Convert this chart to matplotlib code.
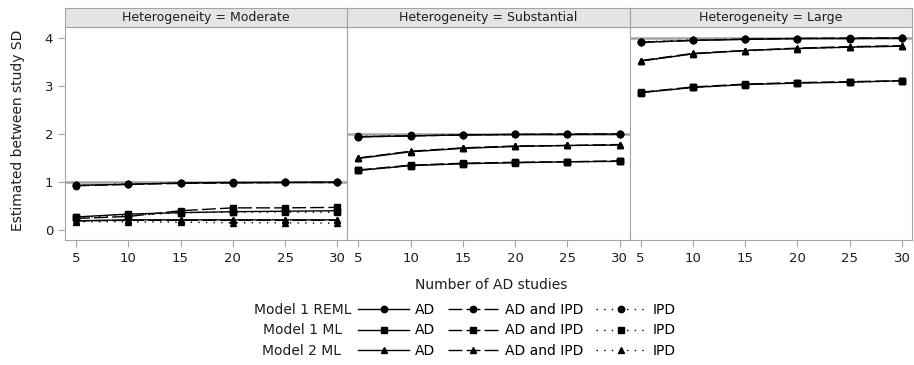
import numpy as np
import matplotlib.pyplot as plt

plt.rcParams['font.family'] = ['DejaVu Sans']

n_studies = [5, 10, 15, 20, 25, 30]
panels = ['Moderate', 'Substantial', 'Large']
true_sd = [1, 2, 4]

# estimates, one list per heterogeneity level (Moderate, Substantial, Large)
reml_ad = [[0.93, 0.95, 0.98, 0.99, 0.99, 1.00],
           [1.94, 1.96, 1.98, 1.99, 1.99, 2.00],
           [3.91, 3.95, 3.97, 3.99, 3.99, 4.00]]
reml_both = [[0.92, 0.95, 0.97, 0.98, 0.99, 0.99],
             [1.94, 1.96, 1.98, 1.99, 2.00, 2.00],
             [3.91, 3.95, 3.98, 3.99, 4.00, 4.00]]
reml_ipd = [[0.93, 0.96, 0.98, 0.98, 0.99, 0.99],
            [1.95, 1.97, 1.98, 1.99, 1.99, 1.99],
            [3.92, 3.96, 3.98, 3.99, 3.99, 4.00]]

ml1_ad = [[0.27, 0.33, 0.36, 0.38, 0.39, 0.40],
          [1.24, 1.34, 1.38, 1.40, 1.42, 1.43],
          [2.86, 2.97, 3.03, 3.06, 3.08, 3.11]]
ml1_both = [[0.24, 0.28, 0.40, 0.46, 0.46, 0.47],
            [1.25, 1.35, 1.39, 1.41, 1.42, 1.44],
            [2.87, 2.98, 3.04, 3.07, 3.09, 3.11]]
ml1_ipd = [[0.26, 0.30, 0.36, 0.37, 0.37, 0.37],
           [1.24, 1.34, 1.38, 1.41, 1.42, 1.43],
           [2.86, 2.97, 3.03, 3.07, 3.08, 3.10]]

ml2_ad = [[0.19, 0.21, 0.21, 0.21, 0.21, 0.21],
          [1.49, 1.63, 1.70, 1.74, 1.76, 1.77],
          [3.52, 3.67, 3.74, 3.78, 3.81, 3.83]]
ml2_both = [[0.19, 0.20, 0.20, 0.20, 0.20, 0.20],
            [1.50, 1.64, 1.71, 1.75, 1.76, 1.78],
            [3.53, 3.68, 3.74, 3.79, 3.82, 3.84]]
ml2_ipd = [[0.17, 0.17, 0.16, 0.15, 0.15, 0.14],
           [1.49, 1.63, 1.71, 1.74, 1.76, 1.77],
           [3.52, 3.67, 3.73, 3.78, 3.81, 3.83]]

models = ['Model 1 REML', 'Model 1 ML', 'Model 2 ML']
designs = ['AD', 'AD and IPD', 'IPD']
series = [[reml_ad, reml_both, reml_ipd],
          [ml1_ad, ml1_both, ml1_ipd],
          [ml2_ad, ml2_both, ml2_ipd]]
markers = ['o', 's', '^']
msizes = [4.6, 4.4, 5]
styles = ['-', (0, (10, 3)), (0, (1, 4.5))]

grey = '#a4a4a4'
txt = '#1e1e1e'
W, H = 914, 365
fig = plt.figure(figsize=(W / 100, H / 100), dpi=100)

left, right = 65, 912
top, bottom = 27, 240
pw = (right - left) / 3

handles = {}
for p in range(3):
    x0 = left + p * pw
    ax = fig.add_axes([x0 / W, 1 - bottom / H, pw / W, (bottom - top) / H])
    ax.axhline(true_sd[p], color=grey, lw=1.8, zorder=1)
    for m in range(3):
        for d in range(3):
            ln, = ax.plot(n_studies, series[m][d][p], color='black', lw=1,
                          linestyle=styles[d], marker=markers[m],
                          markersize=msizes[m], zorder=3)
            handles[(m, d)] = ln
    ax.set_xlim(3.95, 30.96)
    ax.set_ylim(-0.21, 4.23)
    ax.set_xticks(n_studies)
    for s in ax.spines.values():
        s.set_color(grey)
    ax.tick_params(colors=grey, labelcolor=txt, labelsize=9.5, length=5)
    if p == 0:
        ax.set_yticks([0, 1, 2, 3, 4])
    else:
        ax.set_yticks([])

    # panel header strip
    sx = fig.add_axes([x0 / W, 1 - top / H, pw / W, 19 / H])
    sx.set_facecolor('#e4e4e4')
    sx.set_xticks([])
    sx.set_yticks([])
    for s in sx.spines.values():
        s.set_color(grey)
    sx.text(0.5, 0.5, 'Heterogeneity = ' + panels[p], ha='center',
            va='center', fontsize=9, color=txt, transform=sx.transAxes)

fig.text(18 / W, 1 - 130 / H, 'Estimated between study SD', rotation=90,
         ha='center', va='center', fontsize=10, color=txt)
fig.text(491 / W, 1 - 285 / H, 'Number of AD studies', ha='center',
         va='center', fontsize=10, color=txt)

# one legend row per model
row_y = [310, 330.5, 351]
label_end = [352, 342, 341]
row_start = 358
for m in range(3):
    y = 1 - row_y[m] / H
    fig.text(label_end[m] / W, y, models[m], ha='right', va='center',
             fontsize=10, color=txt)
    fig.legend([handles[(m, d)] for d in range(3)], designs,
               loc='center left', bbox_to_anchor=(row_start / W, y),
               ncol=3, frameon=False, fontsize=10, handlelength=3.7,
               handletextpad=0.4, columnspacing=0.9, borderpad=0,
               borderaxespad=0)

fig.savefig('out.png', dpi=100)
